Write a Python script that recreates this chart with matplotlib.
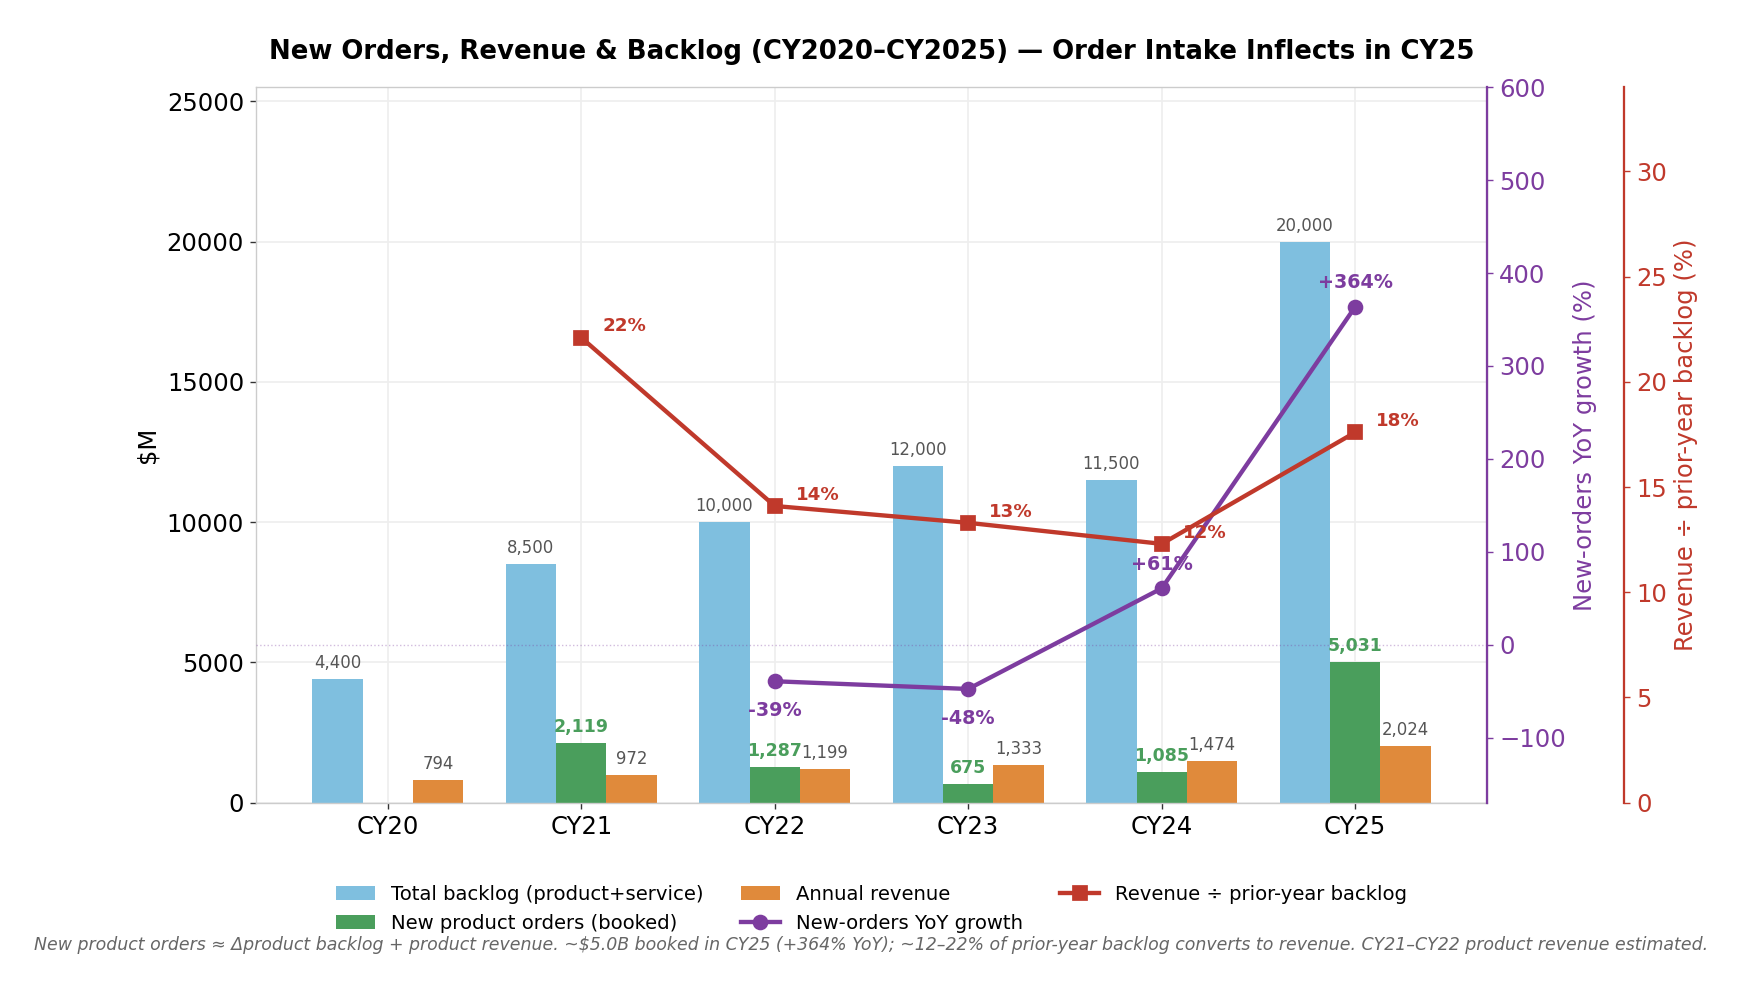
import numpy as np
import matplotlib
matplotlib.use("Agg")
import matplotlib.pyplot as plt

years = ["CY20", "CY21", "CY22", "CY23", "CY24", "CY25"]
backlog = [4400, 8500, 10000, 12000, 11500, 20000]
new_orders = [np.nan, 2119, 1287, 675, 1085, 5031]
revenue = [794, 972, 1199, 1333, 1474, 2024]
yoy_growth = [np.nan, np.nan, -39.3, -47.6, 60.7, 363.7]
rev_to_backlog = [np.nan, 22.1, 14.1, 13.3, 12.3, 17.6]

C_BLUE = "#7fbfdf"
C_GREEN = "#4a9e5c"
C_ORANGE = "#e08a3b"
C_PURPLE = "#7d3c9f"
C_RED = "#c0392b"

plt.rcParams["font.family"] = ["DejaVu Sans"]
fig = plt.figure(figsize=(1743 / 125, 991 / 125), dpi=125)
ax = fig.add_axes([0.147, 0.190, 0.706, 0.722])

x = np.arange(len(years))
w = 0.26
b1 = ax.bar(x - w, backlog, w, color=C_BLUE, label="Total backlog (product+service)", zorder=2)
b2 = ax.bar(x, new_orders, w, color=C_GREEN, label="New product orders (booked)", zorder=2)
b3 = ax.bar(x + w, revenue, w, color=C_ORANGE, label="Annual revenue", zorder=2)

for xi, v in zip(x - w, backlog):
    ax.annotate(f"{v:,.0f}", (xi, v), xytext=(0, 4), textcoords="offset points",
                ha="center", va="bottom", fontsize=9.5, color="#555555")
for xi, v in zip(x, new_orders):
    if not np.isnan(v):
        ax.annotate(f"{v:,.0f}", (xi, v), xytext=(0, 4), textcoords="offset points",
                    ha="center", va="bottom", fontsize=10, color=C_GREEN, fontweight="bold")
for xi, v in zip(x + w, revenue):
    ax.annotate(f"{v:,.0f}", (xi, v), xytext=(0, 4), textcoords="offset points",
                ha="center", va="bottom", fontsize=9.5, color="#555555")

ax.set_xlim(-0.68, 5.68)
ax.set_ylim(0, 25500)
ax.set_xticks(x)
ax.set_xticklabels(years, fontsize=14)
ax.tick_params(axis="y", labelsize=14)
ax.set_ylabel("$M", fontsize=14)
ax.grid(True, color="#eeeeee", linewidth=1.0, zorder=0)
ax.set_axisbelow(True)
for s in ["left", "bottom", "top", "right"]:
    ax.spines[s].set_color("#cccccc")
ax.tick_params(colors="#333333", labelcolor="black")

# YoY axis
ax2 = ax.twinx()
l2, = ax2.plot(x, yoy_growth, color=C_PURPLE, lw=2.5, marker="o", ms=8,
               label="New-orders YoY growth", zorder=4)
ax2.axhline(0, color=C_PURPLE, lw=0.8, ls=":", alpha=0.35)
ax2.set_ylim(-170, 600)
ax2.set_ylabel("New-orders YoY growth (%)", color=C_PURPLE, fontsize=14)
ax2.tick_params(axis="y", colors=C_PURPLE, labelsize=14)
ax2.spines["right"].set_color(C_PURPLE)
ax2.spines["right"].set_linewidth(1.3)
for s in ["left", "top", "bottom"]:
    ax2.spines[s].set_visible(False)
for xi, v in zip(x, yoy_growth):
    if not np.isnan(v):
        off = 14 if v > 0 else -17
        ax2.annotate(f"{v:+.0f}%" if v > 0 else f"{v:.0f}%", (xi, v), xytext=(0, off),
                     textcoords="offset points", ha="center", va="center",
                     fontsize=11, color=C_PURPLE, fontweight="bold")

# Ratio axis
ax3 = ax.twinx()
ax3.spines["right"].set_position(("outward", 79))
l3, = ax3.plot(x, rev_to_backlog, color=C_RED, lw=2.5, marker="s", ms=8,
               label="Revenue ÷ prior-year backlog", zorder=4)
ax3.set_ylim(0, 34)
ax3.set_ylabel("Revenue ÷ prior-year backlog (%)", color=C_RED, fontsize=14)
ax3.tick_params(axis="y", colors=C_RED, labelsize=14)
ax3.spines["right"].set_color(C_RED)
ax3.spines["right"].set_linewidth(1.3)
for s in ["left", "top", "bottom"]:
    ax3.spines[s].set_visible(False)
for xi, v in zip(x, rev_to_backlog):
    if not np.isnan(v):
        ax3.annotate(f"{v:.0f}%", (xi, v), xytext=(12, 6.5), textcoords="offset points",
                     ha="left", va="center", fontsize=10.5, color=C_RED, fontweight="bold")

fig.suptitle("New Orders, Revenue & Backlog (CY2020–CY2025) — Order Intake Inflects in CY25",
             fontsize=15, fontweight="bold", y=0.961)

handles = [b1, b2, b3, l2, l3]
fig.legend(handles, [h.get_label() for h in handles], loc="upper center",
           bbox_to_anchor=(0.5, 0.125), ncol=3, frameon=False, fontsize=11.3,
           columnspacing=1.9)

fig.text(0.5, 0.046,
         "New product orders ≈ Δproduct backlog + product revenue. ~$5.0B booked in CY25 (+364% YoY); "
         "~12–22% of prior-year backlog converts to revenue. CY21–CY22 product revenue estimated.",
         ha="center", va="center", fontsize=10, style="italic", color="#666666")

fig.savefig("out.png", dpi=125)
